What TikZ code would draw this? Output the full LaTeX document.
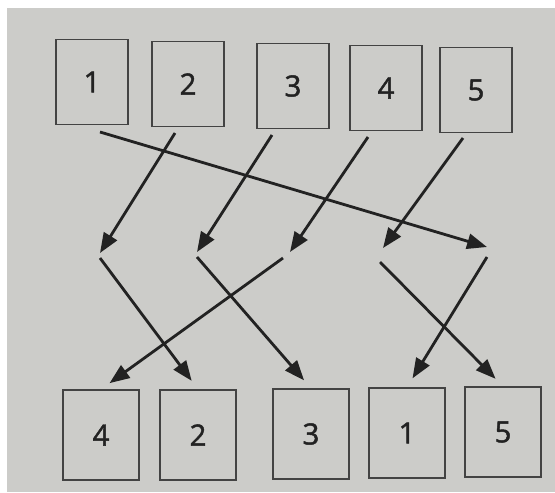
\documentclass[tikz,border=0pt]{standalone}
\usepackage{fontspec}
\setsansfont{Open Sans}
\newfontfamily\cardfont{Open Sans}[FakeBold=1.6]
\usepackage{xcolor}
\usetikzlibrary{arrows.meta}

\definecolor{paper}{RGB}{204,204,201}
\definecolor{ink}{RGB}{34,34,34}

\begin{document}
\begin{tikzpicture}[x=0.03cm,y=-0.03cm,
  every node/.style={font=\cardfont\fontsize{25}{29}\selectfont,text=ink},
  card/.style={draw=ink!85,line width=1.2pt,minimum width=2.16cm,minimum height=2.55cm},
  cardb/.style={card,minimum width=2.28cm,minimum height=2.7cm},
  mv/.style={-{Triangle[length=17pt,width=13pt]},line width=2.4pt,ink}]
 \useasboundingbox (0,0) rectangle (555,492);
 \fill[white] (0,0) rectangle (555,492);
 \fill[paper] (7,8) rectangle (555,492);
 % top row
 \node[card] (t1) at (92,82)  {1};
 \node[card] (t2) at (188,84) {2};
 \node[card] (t3) at (293,86) {3};
 \node[card] (t4) at (386,88) {4};
 \node[card] (t5) at (476,90) {5};
 % bottom row
 \node[cardb] (b4) at (101,435) {4};
 \node[cardb] (b2) at (198,435) {2};
 \node[cardb] (b3) at (311,434) {3};
 \node[cardb] (b1) at (407,433) {1};
 \node[cardb] (b5) at (503,432) {5};
 % arrow feet under the top cards
 \coordinate (s1) at (100,132);
 \coordinate (s2) at (175,133);
 \coordinate (s3) at (272,135);
 \coordinate (s4) at (368,137);
 \coordinate (s5) at (463,138);
 % middle: where arrows arrive (m) and leave again (n)
 \coordinate (m1) at (100,253); \coordinate (n1) at (100,258);
 \coordinate (m2) at (197,252); \coordinate (n2) at (197,257);
 \coordinate (m3) at (290,252); \coordinate (n3) at (283,258);
 \coordinate (m4) at (383,248); \coordinate (n4) at (380,262);
 \coordinate (m5) at (487,247); \coordinate (n5) at (487,257);
 \draw[mv] (s1) -- (m5);
 \draw[mv] (s2) -- (m1);
 \draw[mv] (s3) -- (m2);
 \draw[mv] (s4) -- (m3);
 \draw[mv] (s5) -- (m4);
 \draw[mv,shorten >=9pt] (n1) -- (b2.north);
 \draw[mv,shorten >=9pt] (n2) -- (b3.north);
 \draw[mv,shorten >=9pt] (n3) -- (b4.north);
 \draw[mv,shorten >=9pt] (n4) -- (b5.north);
 \draw[mv,shorten >=9pt] (n5) -- (b1.north);
\end{tikzpicture}
\end{document}
